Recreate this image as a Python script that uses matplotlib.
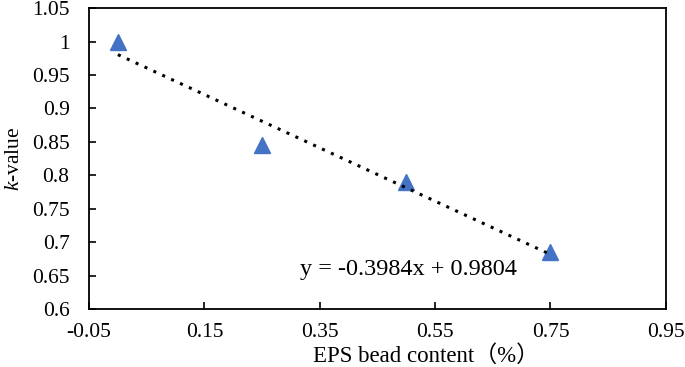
import numpy as np
import matplotlib

matplotlib.use("Agg")
import matplotlib.pyplot as plt

# data
eps_content = [0.0, 0.25, 0.5, 0.75]
k_value = [1.0, 0.845, 0.79, 0.685]
slope, intercept = -0.3984, 0.9804

x_ticks = [-0.05, 0.15, 0.35, 0.55, 0.75, 0.95]
y_ticks = [0.6, 0.65, 0.7, 0.75, 0.8, 0.85, 0.9, 0.95, 1.0, 1.05]
y_ticklabels = ["0.6", "0.65", "0.7", "0.75", "0.8", "0.85", "0.9", "0.95", "1", "1.05"]

plt.rcParams["font.family"] = ["Liberation Serif", "Noto Sans CJK SC"]
plt.rcParams["mathtext.fontset"] = "custom"
plt.rcParams["mathtext.it"] = "Liberation Serif:italic"
plt.rcParams["mathtext.rm"] = "Liberation Serif"

fig = plt.figure(figsize=(6.85, 3.67), dpi=100)
ax = fig.add_axes([0.130, 0.158, 0.842, 0.820])

fit_x = np.array([eps_content[0], eps_content[-1]])
ax.plot(fit_x, slope * fit_x + intercept, color="black", linestyle=(0, (1, 2.2)), lw=2.2, zorder=3)
ax.plot(eps_content, k_value, linestyle="none", marker="^", markersize=11,
        color="#4472C4", zorder=2)

ax.set_xlim(-0.05, 0.95)
ax.set_ylim(0.6, 1.05)
ax.set_xticks(x_ticks)
ax.set_xticklabels([f"{t:.2f}" for t in x_ticks])
ax.set_yticks(y_ticks)
ax.set_yticklabels(y_ticklabels)
ax.tick_params(direction="in", length=5, width=1.2, labelsize=15.5)
ax.tick_params(axis="x", pad=10)
ax.tick_params(axis="y", pad=14)
for s in ax.spines.values():
    s.set_linewidth(1.3)

ax.set_xlabel("EPS bead content（%）", fontsize=16.5)
ax.xaxis.set_label_coords(0.585, -0.12)
ax.set_ylabel(r"$k$-value", fontsize=15.5, labelpad=6)
ax.text(0.316, 0.659, f"y = {slope}x + {intercept}", fontsize=17.5, va="center")

fig.savefig("out.png", dpi=100)
